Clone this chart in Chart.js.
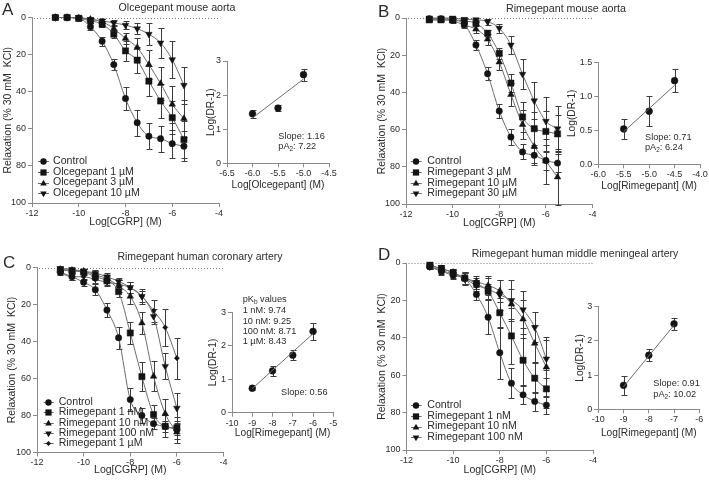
<!DOCTYPE html>
<html><head><meta charset="utf-8">
<script src="https://cdn.jsdelivr.net/npm/chart.js@4.4.1/dist/chart.umd.min.js"></script>
<style>
html,body{margin:0;padding:0;background:#fff;}
#wrap{position:relative;width:709px;height:481px;overflow:hidden;background:#fff;}
canvas{position:absolute;}
</style></head><body><div id="wrap"></div>
<script>
// ---------------- DATA ----------------
const xMouse = [-11,-10.5,-10,-9.5,-9,-8.5,-8,-7.5,-7,-6.5,-6,-5.5];
const xHuman = [-11,-10.5,-10,-9.5,-9,-8.5,-8,-7.5,-7,-6.5,-6];
const mainXTicks = [-12,-10,-8,-6,-4];
const mainYTicks = [0,20,40,60,80,100];

// Panel A: Olcegepant mouse aorta
const aControl    = [0,0,0.4,5,12.8,25.4,43.7,56.7,64,65.3,68,69.4];
const aControlErr = [0.3,0.5,1,2,2.5,3,6,7,7,7,7.5,8];
const aOlc1       = [0,0,0.5,1.8,3.6,9,18,23,34.3,45,54,65.8];
const aOlc1Err    = [0.3,0.5,0.8,1,1.5,2,5.5,7,8,9,9,10];
const aOlc3       = [0,0,0.3,1,2.3,6,11.3,16.2,25.4,35.6,46.8,54.5];
const aOlc3Err    = [0.3,0.5,0.8,1,1.5,2,3,5,8,9,10,10];
const aOlc10      = [0,0,0,1,1.8,2.9,4.1,6,9,13.7,22.7,36.5];
const aOlc10Err   = [0.3,0.3,0.5,0.8,1,1.5,2,3,6,8,10,10];
const aInsetX     = [-6,-5.5,-5];
const aInsetY     = [1.45,1.62,2.6];
const aInsetErr   = [0.12,0.1,0.18];
const aFitX       = [-6,-5];
const aFitY       = [1.33,2.47];
const aInsetXTicks = [-6.5,-6,-5.5,-5,-4.5];
const aInsetYTicks = [0,1,2,3];

// Panel B: Rimegepant mouse aorta
const bControl    = [0.4,0.4,1,3.4,14.5,30,50,64,72,73.8,76.6,78];
const bControlErr = [0.5,0.5,1,1.5,2.5,3.5,4,4.5,4,4,5,5];
const bRim3       = [1,1,1,1.6,2.9,8.2,19,35,53.2,59.5,61,62.3];
const bRim3Err    = [0.5,0.5,0.5,1,1.5,2,3,5,8,9,11,10];
const bRim10      = [1,1,1.5,3.8,6,11.4,23.7,41.2,57.3,69,77,85.5];
const bRim10Err   = [0.5,0.5,1,1.5,2,3,4,6,8,10,12,15];
const bRim30      = [0,0,0,0.7,0.9,2,5.5,14.5,30.2,44.5,55.5,59.5];
const bRim30Err   = [0.3,0.3,0.5,0.8,1,1.5,2.5,5,8,10,13,12];
const bInsetX     = [-5.5,-5,-4.5];
const bInsetY     = [0.52,0.78,1.23];
const bInsetErr   = [0.15,0.22,0.17];
const bFitX       = [-5.5,-4.5];
const bFitY       = [0.48,1.16];
const bInsetXTicks = [-6,-5.5,-5,-4.5,-4];
const bInsetYTicks = [0,0.5,1,1.5];

// Panel C: Rimegepant human coronary artery
const cControl    = [2.5,5,8,12,23,38,71.4,80,84.4,86,87.6];
const cControlErr = [1,1.5,2,3,4,6,6,4,3,3,3];
const cRim1n      = [1.3,2,2.5,5,7.2,13,35.4,59,79.5,85.8,86.7];
const cRim1nErr   = [1,1,1.5,2,2.5,3,6,8,5,6,6];
const cRim10n     = [1,1.5,2,4,6,10,15.6,30,58.8,79,89];
const cRim10nErr  = [1,1,1,1.5,2,3,4,6,8,8,6];
const cRim100n    = [0.5,1,2,3,5,7.5,10.8,15.6,26.4,53.4,76];
const cRim100nErr = [1,1,1,1.5,2,2,3,3,4,7,8];
const cRim1u      = [3,5,5,6.5,8,9,11,15.6,23.4,32.4,49];
const cRim1uErr   = [1,2,1.5,2,2,2.5,3,4,6,10,11];
const cInsetX     = [-9,-8,-7,-6];
const cInsetY     = [0.73,1.25,1.72,2.43];
const cInsetErr   = [0.05,0.15,0.15,0.25];
const cFitX       = [-9,-6];
const cFitY       = [0.72,2.36];
const cInsetXTicks = [-10,-9,-8,-7,-6,-5];
const cInsetYTicks = [0,1,2,3];

// Panel D: Rimegepant human middle meningeal artery
const dControl    = [2,4.5,6.6,8.4,16.8,29,48,64.3,70.5,74,76];
const dControlErr = [1,2,2,3,3,9,14,8,5,5,5];
const dRim1n      = [1.2,3,5.2,8,11,15.2,26.6,39,52,61.6,67.3];
const dRim1nErr   = [1.5,2,2,3,3,4,8,15,14,8,10];
const dRim10n     = [1.5,3,5,8,10,12,15,22,30,43,55.7];
const dRim10nErr  = [1,2,2,3,3,5,6,8,10,10,16];
const dRim100n    = [2,4,6,8.5,12,14,17,20,25,34.4,51.3];
const dRim100nErr = [1,2,2,3,3,6,8,11,10,8,10];
const dInsetX     = [-9,-8,-7];
const dInsetY     = [0.7,1.58,2.5];
const dInsetErr   = [0.27,0.17,0.18];
const dFitX       = [-9,-7];
const dFitY       = [0.66,2.46];
const dInsetXTicks = [-10,-9,-8,-7,-6];
const dInsetYTicks = [0,1,2,3];

// ---------------- STYLE ----------------
const FONT = "'Liberation Sans', Arial, Helvetica, sans-serif";
Chart.defaults.font.family = FONT;
const AX = '#8a8a8a', TXT = '#2b2b2b', CURVE = '#6c6c6c', MARK = '#141414', ERR = '#3c3c3c';
const wrap = document.getElementById('wrap');

function makeCanvas(left, top, w, h) {
  const c = document.createElement('canvas');
  c.width = w; c.height = h;
  c.style.left = left + 'px'; c.style.top = top + 'px';
  c.style.width = w + 'px'; c.style.height = h + 'px';
  wrap.appendChild(c);
  return c;
}

function drawMarker(ctx, style, rot, x, y, r) {
  ctx.beginPath();
  if (style === 'circle') ctx.arc(x, y, r, 0, Math.PI * 2);
  else if (style === 'rect') { const s = r * Math.SQRT1_2; ctx.rect(x - s, y - s, 2 * s, 2 * s); }
  else if (style === 'rectRot') { ctx.moveTo(x, y - r); ctx.lineTo(x + r, y); ctx.lineTo(x, y + r); ctx.lineTo(x - r, y); ctx.closePath(); }
  else if (style === 'triangle') {
    const d = rot ? -1 : 1;
    ctx.moveTo(x, y - d * r); ctx.lineTo(x + r * 0.866, y + d * r * 0.5); ctx.lineTo(x - r * 0.866, y + d * r * 0.5); ctx.closePath();
  }
  ctx.fill();
}

function drawRich(ctx, t, ox, oy) {
  const parts = t.parts || [[t.text, 0]];
  const fnt = sz => sz + 'px ' + FONT;
  let total = 0;
  parts.forEach(([s, sub]) => { ctx.font = fnt(sub ? t.size * 0.7 : t.size); total += ctx.measureText(s).width; });
  let x = t.x - ox - (t.align === 'center' ? total / 2 : 0);
  const y = t.y - oy;
  ctx.fillStyle = TXT; ctx.textAlign = 'left'; ctx.textBaseline = t.baseline || 'middle';
  parts.forEach(([s, sub]) => {
    ctx.font = fnt(sub ? t.size * 0.7 : t.size);
    ctx.fillText(s, x, y + (sub ? t.size * 0.3 : 0));
    x += ctx.measureText(s).width;
  });
}

const errPlugin = {
  id: 'errbars',
  beforeDatasetsDraw(chart) {
    const ctx = chart.ctx, ys = chart.scales.y;
    chart.data.datasets.forEach((ds, i) => {
      if (!ds.errors) return;
      const meta = chart.getDatasetMeta(i);
      ctx.save();
      ctx.strokeStyle = ERR; ctx.lineWidth = 1;
      meta.data.forEach((pt, j) => {
        const e = ds.errors[j];
        if (!e) return;
        const v = ds.data[j].y;
        const y1 = Math.round(ys.getPixelForValue(v - e)) + 0.5;
        const y2 = Math.round(ys.getPixelForValue(v + e)) + 0.5;
        const x = Math.round(pt.x) + 0.5;
        ctx.beginPath();
        ctx.moveTo(x, y1); ctx.lineTo(x, y2);
        ctx.moveTo(x - 3, y1); ctx.lineTo(x + 3, y1);
        ctx.moveTo(x - 3, y2); ctx.lineTo(x + 3, y2);
        ctx.stroke();
      });
      ctx.restore();
    });
  }
};

function decoPlugin(p) {
  const ox = p.canvas.left, oy = p.canvas.top;
  return {
    id: 'deco',
    beforeDatasetsDraw(chart) {
      if (!p.dotted) return;
      const ctx = chart.ctx, y = Math.round(chart.scales.y.getPixelForValue(0)) + 0.5;
      ctx.save();
      ctx.strokeStyle = '#7a7a7a'; ctx.lineWidth = 1; ctx.setLineDash([1, 2]);
      ctx.beginPath(); ctx.moveTo(chart.chartArea.left + 2, y); ctx.lineTo(chart.chartArea.right, y); ctx.stroke();
      ctx.restore();
    },
    afterDraw(chart) {
      const ctx = chart.ctx;
      ctx.save();
      (p.texts || []).forEach(t => drawRich(ctx, t, ox, oy));
      if (p.legend) {
        const L = p.legend;
        p.series.forEach((s, i) => {
          const y = L.y0 + i * L.dy - oy;
          ctx.strokeStyle = CURVE; ctx.lineWidth = 1;
          ctx.beginPath(); ctx.moveTo(L.x1 - ox, Math.round(y) + 0.5); ctx.lineTo(L.x2 - ox, Math.round(y) + 0.5); ctx.stroke();
          ctx.fillStyle = MARK;
          drawMarker(ctx, s.style, s.rot, L.mx - ox, Math.round(y) + 0.5, s.r);
          drawRich(ctx, { text: s.label, x: L.tx, y: L.y0 + i * L.dy, size: L.size }, ox, oy);
        });
      }
      ctx.restore();
    }
  };
}

function seriesDS(xs, s) {
  return {
    label: s.label, data: xs.map((x, i) => ({ x, y: s.ys[i] })), errors: s.err,
    borderColor: CURVE, borderWidth: 1, cubicInterpolationMode: 'monotone', fill: false,
    pointStyle: s.style, pointRotation: s.rot ? 180 : 0, pointRadius: s.r,
    pointBackgroundColor: MARK, pointBorderColor: MARK, pointBorderWidth: 0.5, clip: false
  };
}

function buildChart(p) {
  const lhT = p.tSize * 1.2;
  const relB = p.area.B - p.canvas.top;
  const h = Math.ceil(relB + (p.xTitleY - p.area.B) + lhT / 2);
  const xH = h - relB;
  const yW = p.area.L - p.canvas.left;
  const padTop = p.area.T - p.canvas.top;
  const padRight = p.canvas.left + p.canvas.width - p.area.R;
  const yPad = Math.max(0, p.yTitleX - p.canvas.left - lhT / 2);
  const cv = makeCanvas(p.canvas.left, p.canvas.top, p.canvas.width, h);
  const common = () => ({
    border: { display: true, color: AX, width: 1 },
    grid: { display: true, drawOnChartArea: false, drawTicks: true, tickLength: 4, tickColor: AX, color: AX, lineWidth: 1 }
  });
  return new Chart(cv, {
    type: 'line',
    data: { datasets: p.datasets },
    options: {
      responsive: false, animation: false, devicePixelRatio: 1,
      layout: { padding: { left: 0, top: padTop, right: padRight, bottom: 0 } },
      plugins: { legend: { display: false }, tooltip: { enabled: false }, title: { display: false } },
      scales: {
        x: Object.assign(common(), {
          type: 'linear', min: p.xMin, max: p.xMax,
          afterFit: s => { s.height = xH; },
          afterBuildTicks: s => { s.ticks = p.xTicks.map(v => ({ value: v })); },
          ticks: { font: { size: p.tickSize }, color: TXT, padding: 1, maxRotation: 0, autoSkip: false, callback: p.xFmt },
          title: { display: true, text: p.xTitle, font: { size: p.tSize }, color: TXT, padding: { top: 0, bottom: 0 } }
        }),
        y: Object.assign(common(), {
          type: 'linear', min: p.yMin, max: p.yMax, reverse: !!p.reverse,
          afterFit: s => { s.width = yW; },
          afterBuildTicks: s => { s.ticks = p.yTicks.map(v => ({ value: v })); },
          ticks: { font: { size: p.tickSize }, color: TXT, padding: 2, autoSkip: false, callback: p.yFmt },
          title: { display: true, text: p.yTitle, font: { size: p.tSize }, color: TXT, padding: { top: yPad, bottom: 0 } }
        })
      }
    },
    plugins: [errPlugin, decoPlugin(p)]
  });
}

const fmtInt = v => String(v);
const fmt1 = v => v.toFixed(1);
const Y_MAIN = 'Relaxation (% 30 mM  KCl)';

function mainPanel(cfg) {
  const datasets = cfg.series.map(s => seriesDS(cfg.xs, s));
  buildChart(Object.assign({
    datasets, dotted: true, reverse: true,
    xMin: -12, xMax: -4, xTicks: mainXTicks, yMin: 0, yMax: 100, yTicks: mainYTicks,
    xFmt: fmtInt, yFmt: fmtInt, xTitle: 'Log[CGRP] (M)', yTitle: Y_MAIN,
    tSize: 10.5, tickSize: 9
  }, cfg));
}

function insetPanel(cfg) {
  const datasets = [
    { data: cfg.fitX.map((x, i) => ({ x, y: cfg.fitY[i] })), borderColor: CURVE, borderWidth: 1, pointRadius: 0, fill: false, clip: false },
    { data: cfg.px.map((x, i) => ({ x, y: cfg.py[i] })), errors: cfg.perr, showLine: false,
      pointStyle: 'circle', pointRadius: 3.4, pointBackgroundColor: MARK, pointBorderColor: MARK, pointBorderWidth: 0.5, clip: false }
  ];
  buildChart(Object.assign({ datasets, yTitle: 'Log(DR-1)', tSize: 10.2, tickSize: 9, yFmt: fmtInt }, cfg));
}

const LEG = 10.6;

// ---------------- MAIN PANELS ----------------
mainPanel({
  xs: xMouse,
  area: { L: 32, T: 17.5, R: 219, B: 203 }, canvas: { left: 0, top: 0, width: 250 },
  yTitleX: 8, xTitleY: 221,
  series: [
    { label: 'Control', ys: aControl, err: aControlErr, style: 'circle', r: 3.2 },
    { label: 'Olcegepant 1 µM', ys: aOlc1, err: aOlc1Err, style: 'rect', r: 4.4 },
    { label: 'Olcegepant 3 µM', ys: aOlc3, err: aOlc3Err, style: 'triangle', r: 3.8 },
    { label: 'Olcegepant 10 µM', ys: aOlc10, err: aOlc10Err, style: 'triangle', rot: 1, r: 3.8 }
  ],
  legend: { x1: 38, x2: 49, mx: 43.5, tx: 53, y0: 160.7, dy: 10.9, size: LEG },
  texts: [
    { text: 'A', x: 2, y: 15, size: 17, baseline: 'alphabetic' },
    { text: 'Olcegepant mouse aorta', x: 177, y: 8.5, size: 10.7, align: 'center' }
  ]
});

mainPanel({
  xs: xMouse,
  area: { L: 406, T: 18, R: 592.5, B: 204 }, canvas: { left: 370, top: 0, width: 339 },
  yTitleX: 381.7, xTitleY: 222,
  series: [
    { label: 'Control', ys: bControl, err: bControlErr, style: 'circle', r: 3.2 },
    { label: 'Rimegepant 3 µM', ys: bRim3, err: bRim3Err, style: 'rect', r: 4.4 },
    { label: 'Rimegepant 10 µM', ys: bRim10, err: bRim10Err, style: 'triangle', r: 3.8 },
    { label: 'Rimegepant 30 µM', ys: bRim30, err: bRim30Err, style: 'triangle', rot: 1, r: 3.8 }
  ],
  legend: { x1: 410.7, x2: 421.7, mx: 416, tx: 427.3, y0: 161, dy: 10.8, size: LEG },
  texts: [
    { text: 'B', x: 378, y: 17, size: 17, baseline: 'alphabetic' },
    { text: 'Rimegepant mouse aorta', x: 566, y: 9.3, size: 10.7, align: 'center' }
  ]
});

mainPanel({
  xs: xHuman,
  area: { L: 37, T: 267.5, R: 223.5, B: 452.5 }, canvas: { left: 0, top: 240, width: 290 },
  yTitleX: 12, xTitleY: 469.5,
  series: [
    { label: 'Control', ys: cControl, err: cControlErr, style: 'circle', r: 3.2 },
    { label: 'Rimegepant 1 nM', ys: cRim1n, err: cRim1nErr, style: 'rect', r: 4.4 },
    { label: 'Rimegepant 10 nM', ys: cRim10n, err: cRim10nErr, style: 'triangle', r: 3.8 },
    { label: 'Rimegepant 100 nM', ys: cRim100n, err: cRim100nErr, style: 'triangle', rot: 1, r: 3.8 },
    { label: 'Rimegepant 1 µM', ys: cRim1u, err: cRim1uErr, style: 'rectRot', r: 2.6 }
  ],
  legend: { x1: 43.7, x2: 53.7, mx: 48.5, tx: 58.7, y0: 402, dy: 10.3, size: LEG },
  texts: [
    { text: 'C', x: 3, y: 268, size: 17, baseline: 'alphabetic' },
    { text: 'Rimegepant human coronary artery', x: 200, y: 257.3, size: 10.5, align: 'center' }
  ]
});

mainPanel({
  xs: xHuman,
  area: { L: 406.5, T: 263, R: 593, B: 450 }, canvas: { left: 370, top: 240, width: 339 },
  yTitleX: 382, xTitleY: 469,
  series: [
    { label: 'Control', ys: dControl, err: dControlErr, style: 'circle', r: 3.2 },
    { label: 'Rimegepant 1 nM', ys: dRim1n, err: dRim1nErr, style: 'rect', r: 4.4 },
    { label: 'Rimegepant 10 nM', ys: dRim10n, err: dRim10nErr, style: 'triangle', r: 3.8 },
    { label: 'Rimegepant 100 nM', ys: dRim100n, err: dRim100nErr, style: 'triangle', rot: 1, r: 3.8 }
  ],
  legend: { x1: 411, x2: 421.7, mx: 416, tx: 427.3, y0: 405.3, dy: 10.6, size: LEG },
  texts: [
    { text: 'D', x: 378, y: 260, size: 17, baseline: 'alphabetic' },
    { text: 'Rimegepant human middle meningeal artery', x: 575, y: 254, size: 10.5, align: 'center' }
  ]
});

// ---------------- INSETS ----------------
insetPanel({
  px: aInsetX, py: aInsetY, perr: aInsetErr, fitX: aFitX, fitY: aFitY,
  xMin: -6.5, xMax: -4.5, xTicks: aInsetXTicks, yMin: 0, yMax: 3, yTicks: aInsetYTicks, xFmt: fmt1,
  xTitle: 'Log[Olcegepant] (M)',
  area: { L: 227, T: 61, R: 329, B: 163.3 }, canvas: { left: 195, top: 45, width: 145 },
  yTitleX: 210.7, xTitleY: 184,
  texts: [
    { text: 'Slope: 1.16', x: 278.3, y: 136.7, size: 9.2 },
    { parts: [['pA', 0], ['2', 1], [': 7.22', 0]], x: 278.3, y: 146.7, size: 9.2 }
  ]
});

insetPanel({
  px: bInsetX, py: bInsetY, perr: bInsetErr, fitX: bFitX, fitY: bFitY,
  xMin: -6, xMax: -4, xTicks: bInsetXTicks, yMin: 0, yMax: 1.5, yTicks: bInsetYTicks, xFmt: fmt1, yFmt: fmt1,
  xTitle: 'Log[Rimegepant] (M)',
  area: { L: 598.3, T: 62.3, R: 700, B: 164.3 }, canvas: { left: 560, top: 45, width: 149 },
  yTitleX: 572, xTitleY: 185,
  texts: [
    { text: 'Slope: 0.71', x: 645, y: 137, size: 9.2 },
    { parts: [['pA', 0], ['2', 1], [': 6.24', 0]], x: 645, y: 147.7, size: 9.2 }
  ]
});

insetPanel({
  px: cInsetX, py: cInsetY, perr: cInsetErr, fitX: cFitX, fitY: cFitY,
  xMin: -10, xMax: -5, xTicks: cInsetXTicks, yMin: 0, yMax: 3, yTicks: cInsetYTicks, xFmt: fmtInt,
  xTitle: 'Log[Rimegepant] (M)',
  area: { L: 232, T: 312.3, R: 333.3, B: 412.7 }, canvas: { left: 200, top: 290, width: 145 },
  yTitleX: 213.3, xTitleY: 432.7,
  texts: [
    { parts: [['pK', 0], ['b', 1], [' values', 0]], x: 242.7, y: 299.3, size: 9.2 },
    { text: '1 nM: 9.74', x: 242.7, y: 310.5, size: 9.2 },
    { text: '10 nM: 9.25', x: 242.7, y: 321, size: 9.2 },
    { text: '100 nM: 8.71', x: 242.7, y: 331.2, size: 9.2 },
    { text: '1 µM: 8.43', x: 242.7, y: 341.5, size: 9.2 },
    { text: 'Slope: 0.56', x: 281, y: 392.3, size: 9.2 }
  ]
});

insetPanel({
  px: dInsetX, py: dInsetY, perr: dInsetErr, fitX: dFitX, fitY: dFitY,
  xMin: -10, xMax: -6, xTicks: dInsetXTicks, yMin: 0, yMax: 3, yTicks: dInsetYTicks, xFmt: fmtInt,
  xTitle: 'Log[Rimegepant] (M)',
  area: { L: 598.3, T: 306.7, R: 699.3, B: 409.3 }, canvas: { left: 565, top: 290, width: 144 },
  yTitleX: 580, xTitleY: 432.7,
  texts: [
    { text: 'Slope: 0.91', x: 653.3, y: 383.3, size: 9.2 },
    { parts: [['pA', 0], ['2', 1], [': 10.02', 0]], x: 653.3, y: 394.3, size: 9.2 }
  ]
});
</script>
</body></html>
